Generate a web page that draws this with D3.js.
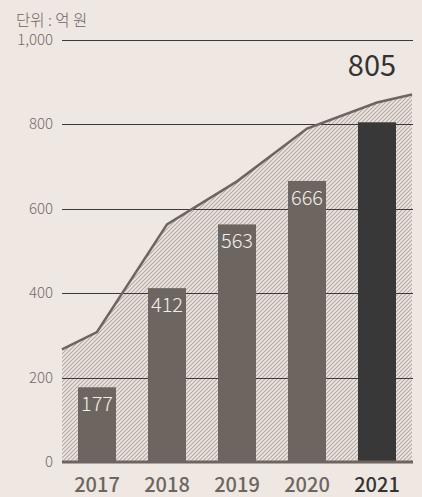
<!DOCTYPE html>
<html>
<head>
<meta charset="utf-8">
<script src="https://cdn.jsdelivr.net/npm/d3@7"></script>
<style>
  html, body { margin: 0; padding: 0; background: #efe7e2; }
  svg { display: block; }
</style>
</head>
<body>
<div id="chart"></div>
<script>
(function () {
  'use strict';

  var years = ['2017', '2018', '2019', '2020', '2021'];
  var amounts = [177, 412, 563, 666, 805];
  var yTicks = [0, 200, 400, 600, 800, 1000];
  // background trend area: positions in category index units (edges at -0.5 / 4.5)
  var trendPos = [-0.5, 0, 1, 2, 3, 4, 4.5];
  var trendVals = [267, 308, 563, 665, 790, 852, 871];
  var unitLabel = '단위 : 억 원';

  var width = 422, height = 497;
  var left = 62, right = 412, top = 40, bottom = 462;
  var font = '"Noto Sans CJK KR", "Noto Sans", sans-serif';

  var svg = d3.select('#chart').append('svg')
    .attr('width', width).attr('height', height);

  // "////" hatching, 4px tile so lines stay crisp
  var pat = svg.append('defs').append('pattern')
    .attr('id', 'hatch')
    .attr('patternUnits', 'userSpaceOnUse')
    .attr('width', 4).attr('height', 4);
  pat.append('rect').attr('width', 4).attr('height', 4).attr('fill', '#ede5e0');
  pat.append('path')
    .attr('d', 'M-1,1 l2,-2 M0,4 l4,-4 M3,5 l2,-2')
    .attr('stroke', '#b3aaa5').attr('stroke-width', 1.1);

  var x = d3.scaleBand().domain(years).range([left, right])
    .paddingInner(0.457).paddingOuter(0.2285);
  var xi = d3.scaleLinear().domain([-0.5, 4.5]).range([left, right]);
  var y = d3.scaleLinear().domain([0, 1000]).range([bottom, top]);

  var trend = trendPos.map(function (p, i) { return { p: p, v: trendVals[i] }; });

  svg.append('path')
    .datum(trend)
    .attr('fill', 'url(#hatch)')
    .attr('d', d3.area().x(function (d) { return xi(d.p); }).y0(bottom).y1(function (d) { return y(d.v); }));

  // gridlines
  svg.append('g').selectAll('line')
    .data(yTicks.filter(function (t) { return t > 0; }))
    .enter().append('line')
    .attr('x1', left).attr('x2', right + 1)
    .attr('y1', function (d) { return Math.round(y(d)) + 0.5; })
    .attr('y2', function (d) { return Math.round(y(d)) + 0.5; })
    .attr('stroke', '#3a3a3a').attr('stroke-width', 1);

  svg.append('path')
    .datum(trend)
    .attr('fill', 'none')
    .attr('stroke', '#6e6560')
    .attr('stroke-width', 2.5)
    .attr('d', d3.line().x(function (d) { return xi(d.p); }).y(function (d) { return y(d.v); }));

  // bars
  svg.append('g').selectAll('rect')
    .data(amounts)
    .enter().append('rect')
    .attr('x', function (d, i) { return x(years[i]); })
    .attr('width', x.bandwidth())
    .attr('y', function (d) { return y(d); })
    .attr('height', function (d) { return bottom - y(d); })
    .attr('fill', function (d, i) { return i === years.length - 1 ? '#383838' : '#6d6560'; });

  // baseline
  svg.append('line')
    .attr('x1', left).attr('x2', right + 1)
    .attr('y1', bottom).attr('y2', bottom)
    .attr('stroke', '#6d6560').attr('stroke-width', 3);

  // value labels
  svg.append('g').selectAll('text')
    .data(amounts.slice(0, -1))
    .enter().append('text')
    .attr('x', function (d, i) { return x(years[i]) + x.bandwidth() / 2; })
    .attr('y', function (d) { return y(d) + 24; })
    .attr('text-anchor', 'middle')
    .attr('font-family', font).attr('font-size', '20px').attr('font-weight', 300)
    .attr('fill', '#f3eeea')
    .text(function (d) { return d; });

  var lastI = years.length - 1;
  svg.append('text')
    .attr('x', x(years[lastI]) + x.bandwidth() / 2 - 5)
    .attr('y', 76)
    .attr('text-anchor', 'middle')
    .attr('font-family', font).attr('font-size', '29px').attr('font-weight', 400)
    .attr('fill', '#333')
    .text(amounts[lastI]);

  // y tick labels
  svg.append('g').selectAll('text')
    .data(yTicks)
    .enter().append('text')
    .attr('x', 53)
    .attr('y', function (d) { return y(d) + 5; })
    .attr('text-anchor', 'end')
    .attr('font-family', font).attr('font-size', '15px').attr('font-weight', 300)
    .attr('fill', '#706a67')
    .text(function (d) { return d3.format(',')(d); });

  // year labels
  svg.append('g').selectAll('text')
    .data(years)
    .enter().append('text')
    .attr('x', function (d) { return x(d) + x.bandwidth() / 2; })
    .attr('y', 492)
    .attr('text-anchor', 'middle')
    .attr('font-family', font).attr('font-size', '20px').attr('font-weight', 500)
    .attr('fill', function (d, i) { return i === lastI ? '#333' : '#6d6560'; })
    .text(function (d) { return d; });

  svg.append('text')
    .attr('x', 16).attr('y', 26)
    .attr('font-family', font).attr('font-size', '15.5px').attr('font-weight', 300)
    .attr('fill', '#6a6562')
    .text(unitLabel);
})();
</script>
</body>
</html>
